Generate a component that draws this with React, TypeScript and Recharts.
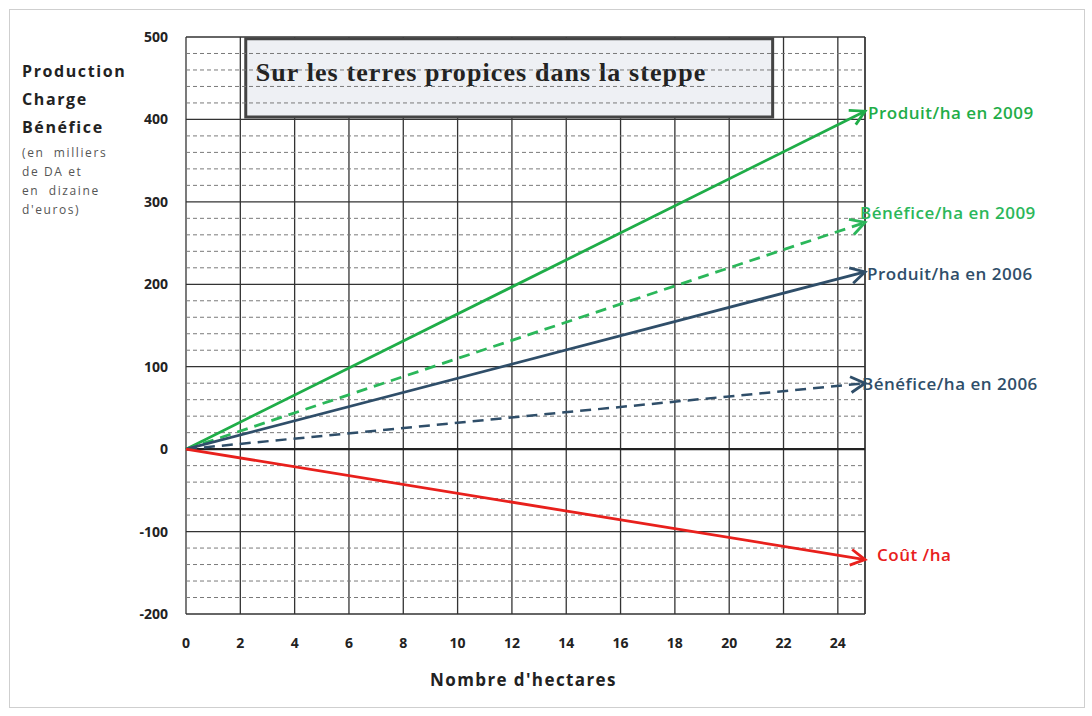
import {
  LineChart,
  Line,
  XAxis,
  YAxis,
  CartesianGrid,
  ReferenceLine,
  ReferenceArea,
  LabelList,
} from 'recharts';

// Hectares (x) and values in thousands of DA
const hectares = [0, 25];
const produit2009 = [0, 410];
const benefice2009 = [0, 275];
const produit2006 = [0, 215];
const benefice2006 = [0, 80];
const cout = [0, -134];

const xTicks = [0, 2, 4, 6, 8, 10, 12, 14, 16, 18, 20, 22, 24];
const yTicks = [-200, -100, 0, 100, 200, 300, 400, 500];
const yMinor = [
  -180, -160, -140, -120, -80, -60, -40, -20, 20, 40, 60, 80, 120, 140, 160, 180,
  220, 240, 260, 280, 320, 340, 360, 380, 420, 440, 460, 480,
];

const GREEN = '#1fad48';
const GREEN_LIGHT = '#2bb75a';
const SLATE = '#2f4e69';
const RED = '#e8201c';

const data = hectares.map((h, i) => ({
  h,
  p09: produit2009[i],
  b09: benefice2009[i],
  p06: produit2006[i],
  b06: benefice2006[i],
  cout: cout[i],
}));

const sans = '"Open Sans", "Liberation Sans", Arial, sans-serif';

// text next to the arrow tip of each line (only the last point)
function endLabel(text: string, color: string, dx: number, dy: number) {
  return (props: any) => {
    if (props.index !== data.length - 1) return null;
    return (
      <text
        x={props.x + dx}
        y={props.y + dy}
        fill={color}
        fontFamily={sans}
        fontSize={17}
        fontWeight={600}
        letterSpacing={0.5}
        dominantBaseline="middle"
      >
        {text}
      </text>
    );
  };
}

function Arrow({ id, color }: { id: string; color: string }) {
  return (
    <marker
      id={id}
      viewBox="0 0 12 12"
      refX={10}
      refY={6}
      markerWidth={19}
      markerHeight={19}
      markerUnits="userSpaceOnUse"
      orient="auto"
    >
      <path d="M1,1 L10,6 L1,11" fill="none" stroke={color} strokeWidth={1.8} />
    </marker>
  );
}

function TitleBox(props: any) {
  const { x, y } = props.viewBox;
  return (
    <text
      x={x + 10}
      y={y + 42}
      fontFamily='"Liberation Serif", "Times New Roman", serif'
      fontWeight={700}
      fontSize={26}
      letterSpacing={1.1}
      fill="#222"
    >
      Sur les terres propices dans la steppe
    </text>
  );
}

const bigLine = { fontSize: 16, fontWeight: 700, lineHeight: '28px', letterSpacing: 1.6 };
const smallLine = { fontSize: 12, color: '#555', lineHeight: '19px', letterSpacing: 1.6 };

export default function App() {
  return (
    <div style={{ position: 'absolute', left: 0, top: 0, width: 1092, height: 716, background: '#fff' }}>
      <div
        style={{
          position: 'absolute',
          left: 9,
          top: 9,
          width: 1074,
          height: 697,
          border: '1px solid #cfcfcf',
        }}
      />

      {/* left axis title */}
      <div style={{ position: 'absolute', left: 22, top: 57, fontFamily: sans, color: '#222' }}>
        <div style={bigLine}>Production</div>
        <div style={bigLine}>Charge</div>
        <div style={{ ...bigLine, marginBottom: 2 }}>Bénéfice</div>
        <div style={smallLine}>(en&nbsp; milliers</div>
        <div style={smallLine}>de DA et</div>
        <div style={smallLine}>en&nbsp; dizaine</div>
        <div style={smallLine}>d'euros)</div>
      </div>

      <div
        style={{
          position: 'absolute',
          left: 430,
          top: 668,
          fontFamily: sans,
          fontSize: 17,
          fontWeight: 700,
          letterSpacing: 1.4,
          color: '#222',
        }}
      >
        Nombre d'hectares
      </div>

      <LineChart
        width={1092}
        height={716}
        data={data}
        margin={{ top: 37, right: 227, left: 136, bottom: 72 }}
      >
        <defs>
          <Arrow id="arr-green" color={GREEN} />
          <Arrow id="arr-green-light" color={GREEN_LIGHT} />
          <Arrow id="arr-slate" color={SLATE} />
          <Arrow id="arr-red" color={RED} />
        </defs>

        {yMinor.map((v) => (
          <ReferenceLine key={v} y={v} stroke="#7a7a7a" strokeDasharray="4 3" strokeWidth={1} />
        ))}
        <CartesianGrid stroke="#333" strokeWidth={1.3} />
        <ReferenceLine x={25} stroke="#333" strokeWidth={1.3} />
        <ReferenceLine y={0} stroke="#222" strokeWidth={2.2} />

        <ReferenceArea
          x1={2.2}
          x2={21.6}
          y1={403}
          y2={498}
          fill="#eef0f4"
          fillOpacity={1}
          stroke="#444"
          strokeWidth={3}
          label={<TitleBox />}
        />

        <XAxis
          dataKey="h"
          type="number"
          domain={[0, 25]}
          ticks={xTicks}
          axisLine={false}
          tickLine={false}
          tickMargin={18}
          tick={{ fontFamily: sans, fontSize: 14, fontWeight: 700, fill: '#222' }}
          height={30}
        />
        <YAxis
          type="number"
          domain={[-200, 500]}
          ticks={yTicks}
          axisLine={false}
          tickLine={false}
          tickMargin={12}
          width={50}
          tick={{ fontFamily: sans, fontSize: 14, fontWeight: 700, fill: '#222' }}
        />

        <Line
          dataKey="p09"
          stroke={GREEN}
          strokeWidth={2.8}
          dot={false}
          markerEnd="url(#arr-green)"
          isAnimationActive={false}
        >
          <LabelList content={endLabel('Produit/ha en 2009', GREEN, 3, 3)} />
        </Line>
        <Line
          dataKey="b09"
          stroke={GREEN_LIGHT}
          strokeWidth={2.8}
          strokeDasharray="11 7"
          dot={false}
          markerEnd="url(#arr-green-light)"
          isAnimationActive={false}
        >
          <LabelList content={endLabel('Bénéfice/ha en 2009', GREEN_LIGHT, -5, -8)} />
        </Line>
        <Line
          dataKey="p06"
          stroke={SLATE}
          strokeWidth={2.8}
          dot={false}
          markerEnd="url(#arr-slate)"
          isAnimationActive={false}
        >
          <LabelList content={endLabel('Produit/ha en 2006', SLATE, 2, 4)} />
        </Line>
        <Line
          dataKey="b06"
          stroke={SLATE}
          strokeWidth={2.5}
          strokeDasharray="11 7"
          dot={false}
          markerEnd="url(#arr-slate)"
          isAnimationActive={false}
        >
          <LabelList content={endLabel('Bénéfice/ha en 2006', SLATE, -3, 2)} />
        </Line>
        <Line
          dataKey="cout"
          stroke={RED}
          strokeWidth={2.8}
          dot={false}
          markerEnd="url(#arr-red)"
          isAnimationActive={false}
        >
          <LabelList content={endLabel('Coût /ha', RED, 12, -3)} />
        </Line>
      </LineChart>
    </div>
  );
}
